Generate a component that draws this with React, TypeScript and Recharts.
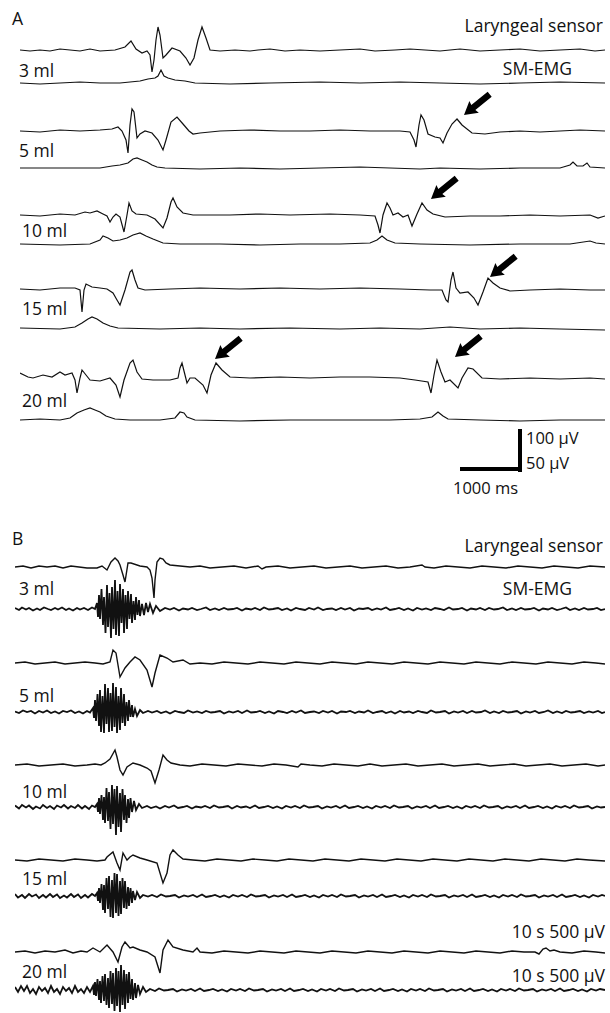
import React from "react";
import { LineChart, Line, XAxis, YAxis, ReferenceDot } from "recharts";

type Pt = [number, number];

// t = sweep position (samples), v = deflection from baseline (display units, up = positive)

// ---- Panel A ----
const a3Laryngeal: Pt[] = [
  [0, 0], [10, -1], [20, 0], [30, -1], [40, 1], [50, 0], [60, -1], [70, 1], [80, -1], [95, 0],
  [105, 3], [111, 9], [116, 1], [122, -3], [127, -1], [130, -5], [132, -22], [134, -10], [136, 10],
  [138, 23], [140, 15], [143, -8], [146, -5], [152, 2], [160, -1], [166, -8], [170, -15], [174, -8],
  [178, 10], [182, 23], [186, 12], [190, 0], [200, -1], [215, 0], [230, -1], [238, 0], [250, 1],
  [265, -1], [280, 0], [300, -1], [320, 0], [340, 1], [355, -1], [375, 0], [390, 1], [405, 0],
  [420, -1], [440, 1], [460, -1], [480, 0], [500, 1], [520, -1], [540, 0], [560, 1], [575, -1], [585, 0],
];
const a3Emg: Pt[] = [
  [0, 0], [20, -1], [40, 0], [60, 1], [80, 0], [100, 0], [120, 2], [128, 4], [135, 5], [138, 7],
  [141, 13], [144, 7], [148, 5], [155, 3], [165, 2], [175, 0], [210, -1], [250, 0], [300, 1],
  [340, 0], [380, 1], [420, 0], [460, -1], [500, 0], [540, 1], [585, 0],
];
const a5Laryngeal: Pt[] = [
  [0, 0], [20, -1], [40, 1], [60, 0], [80, 1], [92, 2], [98, 4], [102, 0], [106, -9], [108, -22],
  [110, 6], [112, 22], [114, 19], [117, -7], [120, -3], [125, 0], [132, -2], [138, -9], [143, -19],
  [146, -9], [151, 9], [157, 14], [163, 7], [169, 0], [173, -3], [180, -2], [200, 0], [230, 1],
  [260, 0], [290, 0], [320, 1], [350, 0], [380, 0], [390, -1], [394, -9], [396, -16], [399, 6],
  [401, 16], [404, 11], [408, -3], [415, -6], [420, -7], [423, -12], [427, -2], [432, 7], [437, 12],
  [442, 6], [452, -2], [465, -3], [480, -1], [500, 0], [520, -1], [540, 0], [560, 1], [585, 0],
];
const a5Emg: Pt[] = [
  [0, 0], [40, 0], [80, 0], [92, 2], [100, 3], [108, 5], [113, 9], [117, 10], [122, 8], [127, 6],
  [132, 3], [137, 1], [145, 0], [180, -1], [220, 0], [260, -1], [300, 0], [340, 1], [400, -1],
  [420, 0], [460, -1], [500, 0], [540, 0], [550, 3], [553, 6], [557, 2], [563, 2], [567, 5],
  [570, 1], [585, 0],
];
const a10Laryngeal: Pt[] = [
  [0, 0], [20, -1], [40, 1], [55, 0], [65, 3], [70, 2], [77, 4], [83, 1], [87, -1], [90, -7],
  [93, -2], [96, 1], [100, -2], [104, -17], [107, 0], [109, 12], [112, 4], [116, 1], [127, 0],
  [135, -4], [143, -13], [147, -3], [151, 13], [153, 17], [157, 8], [163, 2], [173, 0], [210, 0],
  [240, 1], [270, 0], [310, 1], [340, 0], [355, -1], [358, -10], [360, -18], [363, 0], [367, 12],
  [370, 7], [373, 0], [378, 2], [383, -2], [388, 0], [392, -11], [397, 1], [402, 12], [407, 5],
  [413, 1], [425, -2], [450, -1], [480, -1], [510, 0], [540, -1], [570, 0], [578, -3], [585, -1],
];
const a10Emg: Pt[] = [
  [0, 0], [40, -1], [70, 0], [80, 4], [83, 8], [88, 6], [93, 3], [100, 4], [107, 6], [113, 9],
  [120, 11], [126, 8], [133, 5], [143, 1], [160, 0], [200, 0], [240, -1], [280, 0], [320, 0],
  [350, 1], [357, 4], [362, 8], [367, 4], [375, 1], [400, 0], [450, -1], [500, 0], [550, 0],
  [570, 3], [576, 1], [585, 0],
];
const a15Laryngeal: Pt[] = [
  [0, 0], [20, -1], [40, 1], [55, 1], [60, -1], [62, -23], [64, -1], [66, 5], [72, 2], [80, 1],
  [87, 0], [93, -4], [97, -11], [100, -16], [105, -1], [110, 17], [112, 19], [115, 9], [118, 1],
  [125, -1], [150, 0], [180, 1], [220, 0], [260, 1], [300, 0], [340, 1], [380, 0], [410, -1],
  [422, -1], [426, -11], [428, -13], [431, 9], [433, 17], [436, 1], [440, -4], [448, -3], [454, -9],
  [458, -16], [463, -3], [468, 11], [473, 6], [480, 1], [490, -2], [510, -1], [540, 0], [570, -1],
  [585, -1],
];
const a15Emg: Pt[] = [
  [0, 0], [40, -1], [55, 1], [62, 5], [68, 9], [72, 11], [77, 9], [83, 5], [90, 2], [98, 0],
  [140, -1], [180, 0], [220, -1], [270, 0], [320, -1], [360, 0], [400, -1], [430, 1], [460, -1],
  [500, 0], [540, -1], [585, -2],
];
const a20Laryngeal: Pt[] = [
  [0, 4], [8, 0], [13, -1], [23, 2], [32, 0], [40, 5], [45, 2], [52, 4], [55, -3], [57, -16],
  [60, -1], [62, 7], [66, 2], [70, -3], [80, -4], [90, -1], [96, -8], [100, -20], [104, -3],
  [110, 14], [113, 17], [117, 5], [122, -2], [133, -3], [150, -3], [158, -1], [160, 9], [162, 14],
  [165, 2], [167, -6], [170, -1], [175, -1], [183, -8], [187, -16], [191, 2], [196, 14], [202, 7],
  [210, 0], [230, -1], [260, 0], [290, -1], [320, 0], [350, 0], [380, -1], [395, -3], [408, -5],
  [411, -16], [414, 2], [417, 17], [421, 5], [425, -5], [430, -3], [438, -11], [442, -1], [448, 9],
  [453, 8], [462, -1], [480, -2], [510, -1], [540, -2], [570, -1], [585, -2],
];
const a20Emg: Pt[] = [
  [0, 0], [20, 1], [40, 0], [50, 2], [57, 7], [64, 10], [70, 12], [75, 10], [80, 8], [86, 4],
  [95, 1], [110, 0], [140, 0], [155, 2], [160, 8], [164, 7], [167, 3], [175, 0], [220, -1],
  [270, 0], [320, 0], [370, 0], [400, 1], [412, 3], [418, 8], [423, 4], [428, 1], [460, 0],
  [500, -1], [540, 0], [585, 0],
];
// arrow tips, given in the laryngeal trace's own units
const a5Arrows: Pt[] = [[444, 16]];
const a10Arrows: Pt[] = [[411, 16]];
const a15Arrows: Pt[] = [[470, 12]];
const a20Arrows: Pt[] = [[195, 18], [435, 20]];

// ---- Panel B ----
const b3Laryngeal: Pt[] = [
  [0, 0], [8, 1], [16, -1], [24, 1], [32, 0], [40, 1], [48, -1], [56, 1], [64, 0], [72, -1],
  [82, -1], [87, 1], [92, -3], [96, 5], [100, 9], [103, 6], [105, 2], [108, -8], [110, -15],
  [113, 4], [116, 4], [125, 1], [132, 0], [135, -3], [137, -11], [139, -31], [140, -13], [142, 5],
  [145, 9], [148, 8], [151, 4], [155, 2], [165, 1], [175, 0], [185, 1], [195, -1], [207, 0],
  [219, 1], [231, -1], [243, 1], [247, -2], [251, 0], [263, 1], [275, -1], [287, 0], [299, 1],
  [311, -1], [323, 0], [335, 1], [347, -1], [359, 0], [371, 1], [383, -1], [395, 0], [407, 2],
  [410, 0], [419, -1], [431, 1], [443, 0], [455, -1], [467, 1], [479, 0], [491, -1], [503, 1],
  [515, 0], [527, -1], [539, 1], [551, 0], [563, -1], [575, 1], [590, 0],
];
const b3Emg: Pt[] = [
  [0, 1], [4, -1], [7, 1.5], [11, -0.5], [14, 1], [18, -1.5], [22, 0.5], [25, -1], [29, 1.5],
  [33, 0], [36, -1], [40, 1], [43, -0.5], [47, 1.5], [51, -1], [54, 0.5], [58, -1.5], [62, 1],
  [65, -0.5], [69, 1], [73, -1], [77, 1.5], [80, 0],
  [82, 6], [83, -8], [84, 14], [85, -10], [86.5, 20], [88, -16], [89, 12], [90.5, -24], [92, 24],
  [93, -18], [94.5, 16], [96, -29], [97, 22], [98.5, -20], [100, 29], [101, -26], [102.5, 18],
  [104, -27], [105, 25], [106.5, -14], [108, 20], [109, -24], [110.5, 14], [112, -20], [113, 18],
  [114.5, -10], [116, 15], [117, -14], [118.5, 8], [120, -11], [121, 12], [122.5, -6], [124, 9],
  [125, -7], [127, 5], [129, -6], [131, 6], [133, -3], [135, 5], [138, -4], [141, 3], [145, -2],
  [150, 1], [155, -0.5], [159, 1], [164, -1.5], [168, 0.5], [173, -0.5], [177, 1], [182, -1],
  [186, 0], [191, 1.5], [195, -1], [200, 0.5], [204, -1], [209, 1], [213, -0.5], [218, 0], [222, 1],
  [227, -1.5], [231, 0.5], [236, -0.5], [240, 1], [245, -1], [249, 1.5], [254, -0.5], [258, 0],
  [263, 1], [267, -1], [272, 0.5], [276, -1.5], [281, 1], [285, 0], [290, -1], [294, 1], [299, -0.5],
  [303, 1.5], [308, -1], [312, 0], [317, 0.5], [321, -1], [326, 1], [330, -0.5], [335, 1],
  [339, -1.5], [344, 0.5], [348, 0], [353, 1], [357, -1], [362, 0.5], [366, -0.5], [371, 1.5],
  [375, -1], [380, 0], [384, 1], [389, -1], [393, 0.5], [398, -1.5], [402, 1], [407, -0.5],
  [411, 0.5], [416, -1], [420, 1], [425, 0], [429, -1], [434, 1.5], [438, -0.5], [443, 0], [447, 1],
  [452, -1.5], [456, 0.5], [461, -0.5], [465, 1], [470, -1], [474, 1], [479, -0.5], [483, 0],
  [488, 1.5], [492, -1], [497, 0.5], [501, -1], [506, 1], [510, -0.5], [515, 0], [519, 1],
  [524, -1.5], [528, 0.5], [533, -0.5], [537, 1], [542, -1], [546, 0], [551, 1.5], [555, -1],
  [560, 0.5], [564, -1], [569, 1], [573, -0.5], [578, 0], [582, 1], [586, -1], [590, 0],
];
const b5Laryngeal: Pt[] = [
  [0, 0], [10, 1], [20, -1], [30, 0], [40, 1], [50, -1], [60, 0], [70, 1], [80, 0], [88, -1],
  [95, 1], [98, 13], [101, 10], [105, -14], [110, -5], [115, 1], [120, 6], [125, 3], [132, -7],
  [137, -24], [140, -10], [145, 8], [152, 5], [158, 1], [168, 3], [175, -1], [185, 0], [197, -1],
  [209, 1], [221, 0], [233, -1], [245, 1], [257, 0], [269, -1], [281, 1], [293, 0], [305, -1],
  [317, 1], [329, 0], [341, -1], [353, 1], [365, 0], [377, -1], [389, 1], [401, 0], [413, -1],
  [425, 1], [437, 0], [449, -1], [461, 1], [473, 0], [485, -1], [497, 1], [509, 0], [521, -1],
  [533, 1], [545, 0], [557, -1], [569, 1], [581, 0], [590, -1],
];
const b5Emg: Pt[] = [
  [0, 0.5], [4, -1], [8, 1.5], [12, 0], [16, 1], [20, -1.5], [24, 1], [28, -0.5], [32, 1.5],
  [36, -1], [40, 0.5], [44, -1.5], [48, 1], [52, 0], [56, 1.5], [60, -1], [64, 0.5], [68, -1.5],
  [72, 1], [75, -0.5],
  [78, 4], [79, -6], [80, 12], [81, -9], [82.5, 18], [84, -14], [85, 22], [86, -20], [87.5, 16],
  [89, -21], [90, 28], [91.5, -12], [93, 24], [94, -20], [95.5, 19], [97, -19], [98, 29], [99.5, -15],
  [101, 25], [102, -21], [103.5, 16], [105, -18], [106, 24], [107.5, -11], [109, 18], [110, -14],
  [111.5, 10], [113, -9], [114, 12], [115.5, -5], [117, 7], [118, -5], [120, 3], [122, -4], [125, 2],
  [128, -1], [133, 1], [137, -0.5], [142, 1], [146, -1], [151, 0.5], [155, -1.5], [160, 1],
  [164, 0], [169, -1], [173, 1.5], [178, -0.5], [182, 0.5], [187, -1], [191, 1], [196, -0.5],
  [200, 0], [205, 1], [209, -1.5], [214, 0.5], [218, -0.5], [223, 1], [227, -1], [232, 1.5],
  [236, -0.5], [241, 0], [245, 1], [250, -1], [254, 0.5], [259, -1.5], [263, 1], [268, 0], [272, -1],
  [277, 1], [281, -0.5], [286, 1.5], [290, -1], [295, 0], [299, 0.5], [304, -1], [308, 1],
  [313, -0.5], [317, 1], [322, -1.5], [326, 0.5], [331, 0], [335, 1], [340, -1], [344, 0.5],
  [349, -0.5], [353, 1.5], [358, -1], [362, 0], [367, 1], [371, -1], [376, 0.5], [380, -1.5],
  [385, 1], [389, -0.5], [394, 0.5], [398, -1], [403, 1], [407, 0], [412, -1], [416, 1.5],
  [421, -0.5], [425, 0], [430, 1], [434, -1.5], [439, 0.5], [443, -0.5], [448, 1], [452, -1],
  [457, 1], [461, -0.5], [466, 0], [470, 1.5], [475, -1], [479, 0.5], [484, -1], [488, 1],
  [493, -0.5], [497, 0], [502, 1], [506, -1.5], [511, 0.5], [515, -0.5], [520, 1], [524, -1],
  [529, 0], [533, 1.5], [538, -1], [542, 0.5], [547, -1], [551, 1], [556, -0.5], [560, 0], [565, 1],
  [569, -1], [574, 0.5], [578, -0.5], [583, 1], [587, -1], [590, 0],
];
const b10Laryngeal: Pt[] = [
  [0, 0], [12, 1], [24, -1], [36, 0], [48, 1], [60, -1], [72, 0], [80, 1], [86, 0], [90, 2],
  [95, 6], [100, 15], [102, 8], [105, -5], [108, -10], [112, -2], [118, 2], [125, 0], [132, -3],
  [136, -6], [140, -18], [144, -5], [148, 10], [152, 5], [156, 2], [165, 0], [175, -1], [187, 1],
  [199, 0], [211, -1], [223, 1], [235, 0], [247, -1], [259, 1], [271, 0], [283, -2], [286, 1],
  [295, 0], [307, -1], [319, 1], [331, 0], [343, -1], [355, 1], [367, -1], [379, 0], [391, 1],
  [403, -1], [415, 0], [427, 1], [439, -1], [451, 0], [463, 1], [475, -1], [487, 0], [499, 1],
  [511, -1], [523, 0], [535, 1], [547, -1], [559, 0], [571, 1], [583, -1], [590, 0],
];
const b10Emg: Pt[] = [
  [0, 1.5], [4, -1.5], [7, 2], [11, -0.5], [14, 1.5], [18, -2], [21, 0.5], [25, -1.5], [28, 2],
  [32, -1], [35, 1], [39, -2], [42, 1.5], [46, -0.5], [49, 2], [53, -1.5], [56, 1], [60, -1],
  [63, 2], [67, -1.5], [70, 1], [74, -2], [77, 1.5], [80, 0],
  [82, 3], [83, -5], [84, 9], [85, -7], [86.5, 12], [88, -13], [89, 10], [90, -16], [91.5, 19],
  [93, -14], [94, 15], [95.5, -22], [97, 22], [98, -17], [99.5, 18], [101, -28], [102, 21],
  [103.5, -20], [105, 14], [106, -25], [107.5, 18], [109, -13], [110, 12], [111.5, -16], [113, 8],
  [114, -11], [115.5, 9], [117, -5], [119, 6], [121, -3], [124, 3], [127, -1],
  [132, 1], [136, -1], [141, 0.5], [145, -1.5], [150, 1], [154, -0.5], [159, 1.5], [163, -1],
  [168, 0], [172, 1], [177, -1.5], [181, 0.5], [186, -0.5], [190, 1], [195, -1], [199, 1.5],
  [204, -0.5], [208, 0], [213, 1], [217, -1.5], [222, 1], [226, -0.5], [231, 0.5], [235, -1],
  [240, 1.5], [244, -1], [249, 0], [253, 1], [258, -1], [262, 0.5], [267, -1.5], [271, 1],
  [276, -0.5], [280, 1], [285, -1], [289, 1.5], [294, -0.5], [298, 0], [303, 1], [307, -1.5],
  [312, 0.5], [316, -0.5], [321, 1], [325, -1], [330, 1.5], [334, -1], [339, 0], [343, 1],
  [348, -1], [352, 0.5], [357, -1.5], [361, 1], [366, -0.5], [370, 1], [375, -1], [379, 1.5],
  [384, -0.5], [388, 0], [393, 1], [397, -1.5], [402, 0.5], [406, -0.5], [411, 1], [415, -1],
  [420, 1.5], [424, -1], [429, 0], [433, 1], [438, -1], [442, 0.5], [447, -1.5], [451, 1],
  [456, -0.5], [460, 1], [465, -1], [469, 1.5], [474, -0.5], [478, 0], [483, 1], [487, -1.5],
  [492, 0.5], [496, -0.5], [501, 1], [505, -1], [510, 1.5], [514, -1], [519, 0], [523, 1],
  [528, -1], [532, 0.5], [537, -1.5], [541, 1], [546, -0.5], [550, 1], [555, -1], [559, 1.5],
  [564, -0.5], [568, 0], [573, 1], [577, -1.5], [582, 0.5], [586, -0.5], [590, 0],
];
const b15Laryngeal: Pt[] = [
  [0, 0], [12, -1], [24, 1], [36, 0], [48, -1], [60, 1], [72, 0], [82, -1], [90, 0], [92, 3],
  [98, 8], [102, -3], [105, -10], [108, 7], [112, 0], [115, 3], [118, 5], [125, 2], [132, 0],
  [142, -3], [148, -23], [152, -13], [155, 5], [158, 10], [163, 5], [168, 1], [178, 0], [190, -1],
  [202, 1], [214, 0], [226, -1], [238, 1], [250, 0], [262, -1], [274, 1], [286, 0], [298, -1],
  [310, 1], [322, 0], [334, -1], [346, 1], [358, 0], [370, -1], [382, 1], [394, 0], [406, -1],
  [418, 1], [430, 0], [442, -1], [454, 1], [466, 0], [478, -1], [490, 1], [502, 0], [514, -1],
  [526, 1], [538, 0], [550, -1], [562, 1], [574, 0], [590, -1],
];
const b15Emg: Pt[] = [
  [0, 2], [3, -1.5], [7, 1], [10, -2], [14, 2], [17, -0.5], [21, 1.5], [24, -2], [28, 1],
  [31, -1.5], [35, 2], [38, -1], [42, 1.5], [45, -2], [49, 0.5], [52, -1.5], [56, 2], [59, -1],
  [63, 1.5], [66, -2], [70, 1], [73, -1.5], [77, 2], [80, 0],
  [82, 3], [83, -5], [84, 8], [85, -7], [86.5, 12], [88, -14], [89, 11], [90, -17], [91.5, 18],
  [93, -13], [94, 20], [95.5, -21], [97, 16], [98, -22], [99.5, 23], [101, -17], [102, 22],
  [103.5, -20], [105, 15], [106, -18], [107.5, 18], [109, -12], [110, 15], [111.5, -13], [113, 9],
  [114, -10], [115.5, 8], [117, -7], [118, 5], [120, -4], [122, 4], [125, -2], [128, 1],
  [133, -0.5], [137, 1], [142, -1], [146, 1.5], [151, -0.5], [155, 0], [160, 1], [164, -1.5],
  [169, 0.5], [173, -0.5], [178, 1], [182, -1], [187, 1.5], [191, -1], [196, 0], [200, 1],
  [205, -1], [209, 0.5], [214, -1.5], [218, 1], [223, -0.5], [227, 1], [232, -1], [236, 1.5],
  [241, -0.5], [245, 0], [250, 1], [254, -1.5], [259, 0.5], [263, -0.5], [268, 1], [272, -1],
  [277, 1.5], [281, -1], [286, 0], [290, 1], [295, -1], [299, 0.5], [304, -1.5], [308, 1],
  [313, -0.5], [317, 1], [322, -1], [326, 1.5], [331, -0.5], [335, 0], [340, 1], [344, -1.5],
  [349, 0.5], [353, -0.5], [358, 1], [362, -1], [367, 1.5], [371, -1], [376, 0], [380, 1],
  [385, -1], [389, 0.5], [394, -1.5], [398, 1], [403, -0.5], [407, 1], [412, -1], [416, 1.5],
  [421, -0.5], [425, 0], [430, 1], [434, -1.5], [439, 0.5], [443, -0.5], [448, 1], [452, -1],
  [457, 1.5], [461, -1], [466, 0], [470, 1], [475, -1], [479, 0.5], [484, -1.5], [488, 1],
  [493, -0.5], [497, 1], [502, -1], [506, 1.5], [511, -0.5], [515, 0], [520, 1], [524, -1.5],
  [529, 0.5], [533, -0.5], [538, 1], [542, -1], [547, 1.5], [551, -1], [556, 0], [560, 1],
  [565, -1], [569, 0.5], [574, -1.5], [578, 1], [583, -0.5], [587, 1], [590, 0],
];
const b20Laryngeal: Pt[] = [
  [0, 0], [10, 1], [20, -1], [30, 1], [40, 0], [50, 2], [58, -1], [66, 1], [72, 0], [78, 4],
  [85, 0], [92, 7], [98, 0], [103, -10], [107, 5], [110, 10], [115, 4], [118, 5], [125, 2],
  [132, 0], [140, -5], [145, -21], [148, 2], [153, 12], [158, 5], [168, 2], [178, 0], [182, 4],
  [185, 0], [197, -1], [209, 1], [221, 0], [233, -1], [245, 1], [257, 0], [269, -1], [281, 1],
  [293, 0], [305, -1], [317, 1], [329, 0], [341, -1], [353, 1], [365, 0], [377, -1], [389, 1],
  [401, 0], [413, -1], [425, 1], [437, 0], [449, -1], [461, 1], [473, 0], [485, -1], [497, 1],
  [509, 0], [520, 0], [524, -2], [528, 3], [531, 4], [535, 1], [539, 2], [545, 0], [557, -1],
  [569, 1], [581, 0], [590, -1],
];
const b20Emg: Pt[] = [
  [0, 3], [3, -2], [6, 4], [9, -1], [12, 4], [15, -3], [18, 1], [21, -4], [24, 3], [27, -1],
  [30, 2], [33, -3], [36, 4], [39, -2], [42, 1], [45, -4], [48, 3], [51, -1], [54, 2], [57, -3],
  [60, 4], [63, -2], [66, 1], [69, -3], [72, 3], [75, -2],
  [78, 4], [79, -5], [80, 8], [81, -6], [82.5, 11], [84, -10], [85, 9], [86, -13], [87.5, 14],
  [89, -11], [90, 16], [91.5, -15], [93, 12], [94, -18], [95.5, 19], [97, -14], [98, 17], [99.5, -21],
  [101, 22], [102, -16], [103.5, 19], [105, -22], [106, 25], [107.5, -15], [109, 20], [110, -19],
  [111.5, 16], [113, -13], [114, 18], [115.5, -9], [117, 11], [118, -10], [120, 7], [121, -8],
  [123, 5], [125, -4], [128, 3], [131, -2],
  [135, 1], [140, -1], [144, 1.5], [149, -0.5], [153, 0], [158, 1], [162, -1.5], [167, 0.5],
  [171, -0.5], [176, 1], [180, -1], [185, 1.5], [189, -1], [194, 0], [198, 1], [203, -1],
  [207, 0.5], [212, -1.5], [216, 1], [221, -0.5], [225, 1], [230, -1], [234, 1.5], [239, -0.5],
  [243, 0], [248, 1], [252, -1.5], [257, 0.5], [261, -0.5], [266, 1], [270, -1], [275, 1.5],
  [279, -1], [284, 0], [288, 1], [293, -1], [297, 0.5], [302, -1.5], [306, 1], [311, -0.5],
  [315, 1], [320, -1], [324, 1.5], [329, -0.5], [333, 0], [338, 1], [342, -1.5], [347, 0.5],
  [351, -0.5], [356, 1], [360, -1], [365, 1.5], [369, -1], [374, 0], [378, 1], [383, -1],
  [387, 0.5], [392, -1.5], [396, 1], [401, -0.5], [405, 1], [410, -1], [414, 1.5], [419, -0.5],
  [423, 0], [428, 1], [432, -1.5], [437, 0.5], [441, -0.5], [446, 1], [450, -1], [455, 1.5],
  [459, -1], [464, 0], [468, 1], [473, -1], [477, 0.5], [482, -1.5], [486, 1], [491, -0.5],
  [495, 1], [500, -1], [504, 1.5], [509, -0.5], [513, 0], [518, 1], [522, -1.5], [527, 0.5],
  [531, -0.5], [536, 1], [540, -1], [545, 1.5], [549, -1], [554, 0], [558, 1], [563, -1],
  [567, 0.5], [572, -1.5], [576, 1], [581, -0.5], [585, 1], [590, 0],
];

const volumes = ["3 ml", "5 ml", "10 ml", "15 ml", "20 ml"];

const FONT = "'Open Sans', 'DejaVu Sans', sans-serif";
const INK = "#111";

function Arrow(props: any) {
  const { cx, cy } = props;
  if (cx == null || cy == null) return null;
  // arrow pointing down-left, tip at (cx, cy)
  const ux = 0.778, uy = -0.629, nx = 0.629, ny = 0.778;
  const outline = [[0, 0], [13, 7.5], [12, 3.2], [33, 3.2], [33, -3.2], [12, -3.2], [13, -7.5]];
  const pts = outline
    .map(([a, b]) => `${cx + ux * a + nx * b},${cy + uy * a + ny * b}`)
    .join(" ");
  return <polygon points={pts} fill="#000" />;
}

interface TraceProps {
  data: Pt[];
  base: number;
  left: number;
  span: number;
  width?: number;
  arrows?: Pt[];
}

function Trace({ data, base, left, span, width = 1.2, arrows = [] }: TraceProps) {
  const rows = data.map(([t, v]) => ({ t, v }));
  return (
    <div style={{ position: "absolute", left, top: base - 50 }}>
      <LineChart width={span} height={100} data={rows} margin={{ top: 0, right: 0, bottom: 0, left: 0 }}>
        <XAxis dataKey="t" type="number" domain={[0, span]} hide allowDataOverflow />
        <YAxis type="number" domain={[-50, 50]} hide allowDataOverflow />
        <Line
          dataKey="v"
          type="linear"
          stroke={INK}
          strokeWidth={width}
          dot={false}
          isAnimationActive={false}
        />
        {arrows.map(([t, v], i) => (
          <ReferenceDot key={i} x={t} y={v} r={0} ifOverflow="visible" shape={Arrow} />
        ))}
      </LineChart>
    </div>
  );
}

const panelA = [
  { lar: a3Laryngeal, emg: a3Emg, larBase: 50, emgBase: 83, label: 77, arrows: [] as Pt[] },
  { lar: a5Laryngeal, emg: a5Emg, larBase: 131, emgBase: 168, label: 157, arrows: a5Arrows },
  { lar: a10Laryngeal, emg: a10Emg, larBase: 215, emgBase: 244, label: 237, arrows: a10Arrows },
  { lar: a15Laryngeal, emg: a15Emg, larBase: 289, emgBase: 328, label: 315, arrows: a15Arrows },
  { lar: a20Laryngeal, emg: a20Emg, larBase: 377, emgBase: 420, label: 407, arrows: a20Arrows },
];

const panelB = [
  { lar: b3Laryngeal, emg: b3Emg, larBase: 567, emgBase: 609, label: 595 },
  { lar: b5Laryngeal, emg: b5Emg, larBase: 663, emgBase: 712, label: 702 },
  { lar: b10Laryngeal, emg: b10Emg, larBase: 765, emgBase: 807, label: 798 },
  { lar: b15Laryngeal, emg: b15Emg, larBase: 860, emgBase: 896, label: 885 },
  { lar: b20Laryngeal, emg: b20Emg, larBase: 952, emgBase: 990, label: 978 },
];

export default function App() {
  const txt = { fontFamily: FONT, fontSize: 17.5, fill: INK } as const;
  const cal = { fontFamily: FONT, fontSize: 16.5, fill: INK } as const;
  return (
    <div style={{ position: "relative", width: 610, height: 1013, background: "#fff", overflow: "hidden" }}>
      <style>{"body{margin:0}"}</style>
      {panelA.map((p, i) => (
        <React.Fragment key={`a${i}`}>
          <Trace data={p.lar} base={p.larBase} left={20} span={585} arrows={p.arrows} />
          <Trace data={p.emg} base={p.emgBase} left={20} span={585} />
        </React.Fragment>
      ))}
      {panelB.map((p, i) => (
        <React.Fragment key={`b${i}`}>
          <Trace data={p.lar} base={p.larBase} left={15} span={590} width={1.4} />
          <Trace data={p.emg} base={p.emgBase} left={15} span={590} width={1.8} />
        </React.Fragment>
      ))}
      <svg
        width={610}
        height={1013}
        style={{ position: "absolute", left: 0, top: 0, pointerEvents: "none" }}
      >
        <text x={12} y={25} {...txt}>A</text>
        <text x={603} y={32} textAnchor="end" {...txt}>Laryngeal sensor</text>
        <text x={572} y={75} textAnchor="end" {...txt}>SM-EMG</text>
        {panelA.map((p, i) => (
          <text key={i} x={i < 2 ? 19 : 22} y={p.label} {...txt}>{volumes[i]}</text>
        ))}
        {/* calibration bar */}
        <rect x={518} y={429} width={4} height={43} fill="#000" />
        <rect x={460} y={467} width={62} height={4} fill="#000" />
        <text x={526} y={444} {...cal}>100 µV</text>
        <text x={526} y={469} {...cal}>50 µV</text>
        <text x={453} y={494} {...cal}>1000 ms</text>

        <text x={12} y={545} {...txt}>B</text>
        <text x={603} y={552} textAnchor="end" {...txt}>Laryngeal sensor</text>
        <text x={572} y={595} textAnchor="end" {...txt}>SM-EMG</text>
        {panelB.map((p, i) => (
          <text key={i} x={i < 2 ? 19 : 22} y={p.label} {...txt}>{volumes[i]}</text>
        ))}
        <text x={605} y={938} textAnchor="end" {...txt}>10 s 500 µV</text>
        <text x={605} y={982} textAnchor="end" {...txt}>10 s 500 µV</text>
      </svg>
    </div>
  );
}
